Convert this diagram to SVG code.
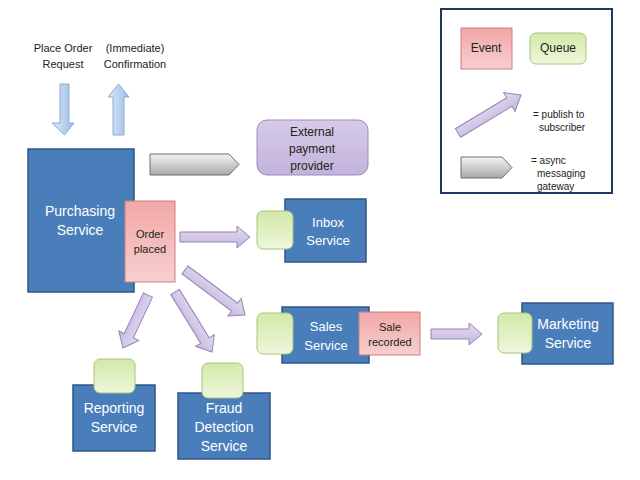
<svg xmlns="http://www.w3.org/2000/svg" width="640" height="480" viewBox="0 0 640 480">
<defs>
<linearGradient id="gRed" x1="0" y1="0" x2="0" y2="1"><stop offset="0" stop-color="#f2a7a6"/><stop offset="1" stop-color="#f7cfcf"/></linearGradient>
<linearGradient id="gGreen" x1="0" y1="0" x2="0" y2="1"><stop offset="0" stop-color="#d3e8a8"/><stop offset="1" stop-color="#eef7dc"/></linearGradient>
<linearGradient id="gPurple" x1="0" y1="0" x2="0" y2="1"><stop offset="0" stop-color="#d6cbe8"/><stop offset="1" stop-color="#c3b3dc"/></linearGradient>
<linearGradient id="gArrow" x1="0" y1="0" x2="0" y2="1"><stop offset="0" stop-color="#e4dcf0"/><stop offset="1" stop-color="#c4b6dd"/></linearGradient>
<linearGradient id="gGray" x1="0" y1="0" x2="0" y2="1"><stop offset="0" stop-color="#f4f4f4"/><stop offset="1" stop-color="#a9a9a9"/></linearGradient>
<linearGradient id="gBlueA" x1="0" y1="0" x2="1" y2="0"><stop offset="0" stop-color="#dce8f7"/><stop offset="1" stop-color="#9dbde6"/></linearGradient>
</defs>
<style>
.svc{fill:#4a7ebb;stroke:#2f5689;stroke-width:1.5}
.ev{fill:url(#gRed);stroke:#c9807f;stroke-width:1}
.q{fill:url(#gGreen);stroke:#a8c47a;stroke-width:1}
.pa{fill:url(#gArrow);stroke:#9484b8;stroke-width:1}
.gw{fill:url(#gGray);stroke:#6f6f6f;stroke-width:1}
.ba{fill:url(#gBlueA);stroke:#8aaad4;stroke-width:1}
text{font-family:"Liberation Sans",Arial,sans-serif;text-anchor:middle}
.w{fill:#ffffff}
.k{fill:#222222}
.s11{font-size:11px}
.s12{font-size:12px}
.s13{font-size:13px}
.s14{font-size:14px}
.s10{font-size:10px}
.l{text-anchor:start}
</style>

<g id="connectors">
<path class="ba" d="M60,84 H69 V123 H74 L64.5,135 L52,123 H60 Z"/>
<path class="ba" d="M113,135 H124 V97 H129 L118.5,84 L108,97 H113 Z"/>
<path class="gw" d="M150,154 H229 L239,164.5 L229,175 H150 Z"/>
<path class="pa" transform="translate(180,237)" d="M0,-5 H57 V-11 L70,0 L57,11 V5 H0 Z"/>
<path class="pa" transform="translate(185,270) rotate(36.9)" d="M0,-5 H62 V-11 L75,0 L62,11 V5 H0 Z"/>
<path class="pa" transform="translate(148,295) rotate(115.3)" d="M0,-5 H45 V-11 L58.6,0 L45,11 V5 H0 Z"/>
<path class="pa" transform="translate(175,292) rotate(58.3)" d="M0,-5 H57 V-11 L70.5,0 L57,11 V5 H0 Z"/>
<path class="pa" transform="translate(431,334)" d="M0,-5 H38 V-11 L51,0 L38,11 V5 H0 Z"/>
</g>

<g id="input-labels">
<text class="k s11" x="63" y="52">Place Order</text>
<text class="k s11" x="63" y="68">Request</text>
<text class="k s11" x="135" y="52">(Immediate)</text>
<text class="k s11" x="135" y="68">Confirmation</text>
</g>

<g id="purchasing">
<rect class="svc" x="28" y="149" width="106" height="143"/>
<text class="w s14" x="80" y="216">Purchasing</text>
<text class="w s14" x="80" y="235">Service</text>
</g>
<g id="order-placed">
<rect class="ev" x="125" y="201" width="50" height="81"/>
<text class="k s11" x="150" y="238">Order</text>
<text class="k s11" x="150" y="253">placed</text>
</g>

<g id="external-payment">
<rect x="257" y="120" width="111" height="55" rx="10" fill="url(#gPurple)" stroke="#9b8bbf" stroke-width="1"/>
<text class="k s12" x="312" y="136">External</text>
<text class="k s12" x="312" y="153">payment</text>
<text class="k s12" x="312" y="170">provider</text>
</g>

<g id="inbox">
<rect class="svc" x="285" y="199" width="81" height="63"/>
<rect class="q" x="257" y="211" width="36" height="38" rx="6"/>
<text class="w s13" x="328" y="227">Inbox</text>
<text class="w s13" x="328" y="245">Service</text>
</g>

<g id="sales">
<rect class="svc" x="282" y="307" width="87" height="56"/>
<rect class="q" x="257" y="313" width="36" height="41" rx="6"/>
<text class="w s13" x="326" y="331">Sales</text>
<text class="w s13" x="326" y="350">Service</text>
</g>
<g id="sale-recorded">
<rect class="ev" x="359" y="312" width="61" height="43"/>
<text class="k s11" x="390" y="331">Sale</text>
<text class="k s11" x="390" y="346">recorded</text>
</g>

<g id="marketing">
<rect class="svc" x="522" y="303" width="91" height="61"/>
<rect class="q" x="498" y="313" width="34" height="40" rx="6"/>
<text class="w s14" x="568" y="329">Marketing</text>
<text class="w s14" x="568" y="348">Service</text>
</g>

<g id="reporting">
<rect class="svc" x="73" y="385" width="82" height="66"/>
<rect class="q" x="94" y="359" width="41" height="34" rx="6"/>
<text class="w s14" x="114" y="413">Reporting</text>
<text class="w s14" x="114" y="432">Service</text>
</g>

<g id="fraud">
<rect class="svc" x="178" y="393" width="92" height="66"/>
<rect class="q" x="202" y="363" width="41" height="35" rx="6"/>
<text class="w s14" x="224" y="413">Fraud</text>
<text class="w s14" x="224" y="432">Detection</text>
<text class="w s14" x="224" y="451">Service</text>
</g>

<g id="legend">
<rect x="441" y="9" width="171" height="184" fill="#ffffff" stroke="#1f3864" stroke-width="2"/>
<rect class="ev" x="461" y="28" width="51" height="41"/>
<text class="k s12" x="486" y="52">Event</text>
<rect class="q" x="530" y="33" width="56" height="31" rx="6"/>
<text class="k s12" x="558" y="52">Queue</text>
<path class="pa" transform="translate(458,133) rotate(-31.1)" d="M0,-5 H60 V-11 L73.6,0 L60,11 V5 H0 Z"/>
<text class="k s10 l" x="533" y="118">= publish to</text>
<text class="k s10 l" x="539" y="131">subscriber</text>
<path class="gw" d="M461,157 H502 L512,167.5 L502,178 H461 Z"/>
<text class="k s10 l" x="531" y="164">= async</text>
<text class="k s10 l" x="537" y="177">messaging</text>
<text class="k s10 l" x="537" y="190">gateway</text>
</g>
</svg>
